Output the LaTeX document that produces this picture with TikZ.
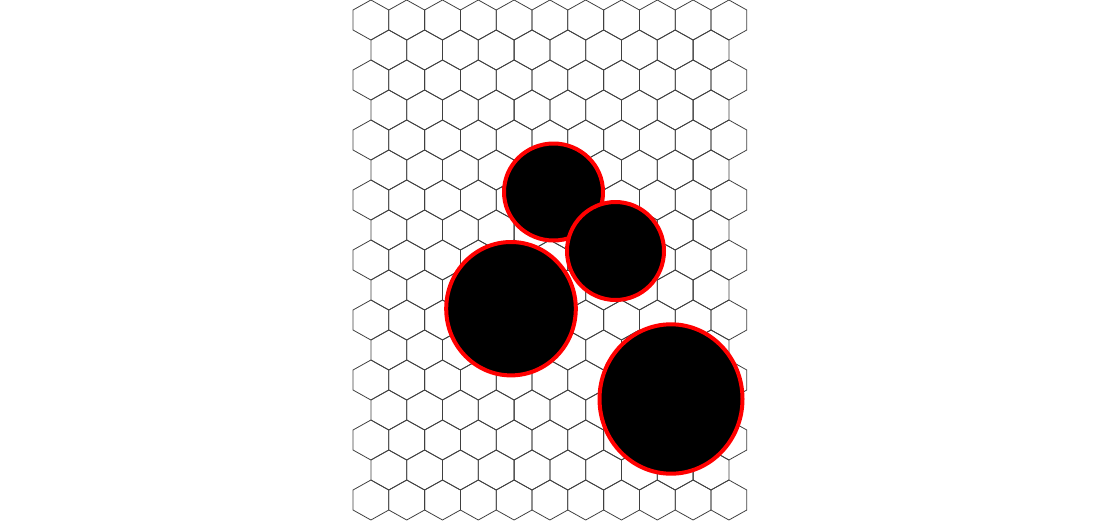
\documentclass[tikz,border=0pt]{standalone}
\usetikzlibrary{positioning}

% one pointy-top cell of the honeycomb, centred at (#1,#2)
\newcommand{\hexcell}[2]{%
  \draw[cell] (#1,#2) +(0,-20) -- +(17.9,-10) -- +(17.9,10) -- +(0,20)
    -- +(-17.9,10) -- +(-17.9,-10) -- cycle;}

\begin{document}
\begin{tikzpicture}[
  x=1pt, y=-1pt,
  cell/.style={draw=black!75, line width=0.8pt, line join=miter},
  disc/.style={draw=red, fill=black, line width=4pt},
]
\useasboundingbox (0,0) rectangle (1100,520);

% Honeycomb: 17 rows, long rows of 11 cells, short rows of 10
\foreach \r in {0,2,...,16} {
  \foreach \j in {0,...,10} {
    \hexcell{370.9+35.8*\j}{20+30*\r}
  }
}
\foreach \r in {1,3,...,15} {
  \foreach \j in {0,...,9} {
    \hexcell{388.8+35.8*\j}{20+30*\r}
  }
}

% Discs laid over the grid
\draw[disc] (553.5,192) ellipse [x radius=49.5, y radius=48.5];
\draw[disc] (511,308.7) ellipse [x radius=64.8, y radius=66.7];
\draw[disc] (615.5,251) ellipse [x radius=48.5, y radius=49];
\draw[disc] (671,399) ellipse [x radius=71.5, y radius=74.7];

\end{tikzpicture}
\end{document}
